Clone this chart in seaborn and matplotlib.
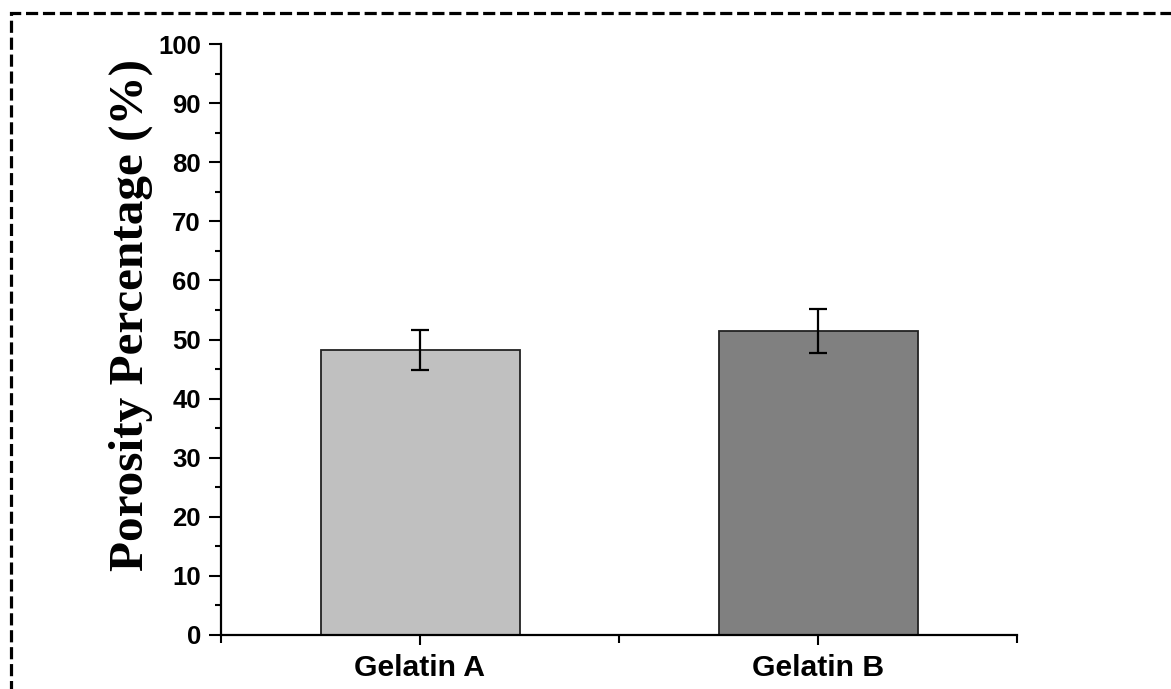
import matplotlib
matplotlib.use("Agg")
import matplotlib.pyplot as plt
import seaborn as sns
import pandas as pd
from matplotlib.patches import Rectangle
from matplotlib.ticker import MultipleLocator, FixedLocator

categories = ["Gelatin A", "Gelatin B"]
porosity = [48.2, 51.4]
errors = [3.35, 3.7]
bar_colors = ["#c0c0c0", "#808080"]
y_ticks = [0, 10, 20, 30, 40, 50, 60, 70, 80, 90, 100]

sns.set_theme(style="white")
plt.rcParams["font.family"] = ["Liberation Sans", "DejaVu Sans"]
for k in ["text.color", "axes.labelcolor", "xtick.color", "ytick.color"]:
    plt.rcParams[k] = "black"

df = pd.DataFrame({"cat": categories, "val": porosity})

fig = plt.figure(figsize=(11.71, 6.89), dpi=100)
ax = fig.add_axes([221/1171, 1-635/689, (1017-221)/1171, (635-44)/689])

sns.barplot(data=df, x="cat", y="val", hue="cat", palette=bar_colors,
            order=categories, hue_order=categories, width=0.5,
            edgecolor="#222222", linewidth=1.3, errorbar=None,
            legend=False, ax=ax)
ax.errorbar(range(len(categories)), porosity, yerr=errors, fmt="none",
            ecolor="black", elinewidth=1.6, capsize=6.5, capthick=1.6)

ax.set_xlim(-0.5, 1.5)
ax.set_ylim(0, 100)
ax.set_yticks(y_ticks)
ax.yaxis.set_minor_locator(MultipleLocator(5))
ax.xaxis.set_minor_locator(FixedLocator([-0.5, 0.5, 1.5]))

for s in ["top", "right"]:
    ax.spines[s].set_visible(False)
for s in ["left", "bottom"]:
    ax.spines[s].set_color("black")
    ax.spines[s].set_linewidth(1.6)

ax.tick_params(axis="y", which="major", direction="out", length=8.5, width=1.5,
               left=True, labelsize=18.5, pad=6)
ax.tick_params(axis="y", which="minor", direction="out", length=4.5, width=1.5,
               left=True)
ax.tick_params(axis="x", which="major", direction="out", length=7, width=1.5,
               bottom=True, labelsize=21.7, pad=7)
ax.tick_params(axis="x", which="minor", direction="out", length=6, width=1.5,
               bottom=True)
for lab in ax.get_xticklabels() + ax.get_yticklabels():
    lab.set_fontweight("bold")

ax.set_xlabel("")
ax.set_ylabel("Porosity Percentage (%)", fontsize=35.5, fontweight="bold",
              family=["Liberation Serif", "DejaVu Serif"])
ax.yaxis.set_label_coords(-0.0854, 0.541)

fig.patches.append(Rectangle((11/1171, -0.05), 1.1, 1-13/689+0.05,
                             transform=fig.transFigure, fill=False,
                             edgecolor="black", linewidth=2.3,
                             linestyle=(0, (3.8, 1.5)), zorder=10))

fig.savefig("out.png", dpi=100)
